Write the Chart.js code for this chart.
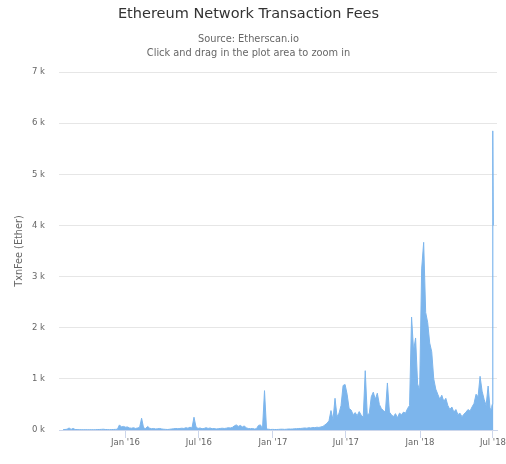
<!DOCTYPE html>
<html>
<head>
<meta charset="utf-8">
<title>Ethereum Network Transaction Fees</title>
<script src="https://cdn.jsdelivr.net/npm/chart.js@4.4.1/dist/chart.umd.min.js"></script>
<style>
  html, body { margin: 0; padding: 0; background: #fff; }
  #wrap { width: 506px; height: 464px; }
</style>
</head>
<body>
<div id="wrap"><canvas id="fees"></canvas></div>
<script>
// day 0 = 30 Jul 2015, one reading every 5 days (estimated off the chart)
const stepDays = 5;
const fees2015 = [5, 10, 15, 40, 12, 30, 10, 8, 6, 6,
  5, 6, 5, 5, 6, 5, 6, 8, 10, 12,
  15, 10, 8, 6, 8, 10, 12, 15, 100, 60,
  70];
const fees2016 = [55, 60, 40, 35, 45, 30, 40, 50, 230,
  40, 30, 70, 35, 25, 30, 20, 25, 30, 20,
  15, 12, 10, 15, 20, 25, 30, 25, 30, 35,
  30, 45, 35, 55, 40, 250, 60, 30, 40, 25,
  30, 45, 30, 40, 25, 30, 20, 25, 30, 35,
  30, 35, 45, 40, 50, 80, 100, 70, 90, 60,
  80, 40, 30, 25, 30, 20, 25, 90, 100, 20,
  770, 20, 15, 10, 12];
const fees2017 = [10, 10, 12, 15, 15,
  12, 15, 20, 18, 20, 25, 25, 30, 30, 35,
  40, 35, 45, 40, 50, 45, 55, 50, 60, 70,
  100, 130, 180, 380, 200, 620, 260, 330, 480, 870,
  890, 700, 420, 390, 300, 340, 280, 360, 290, 250,
  1160, 300, 320, 650, 740, 600, 720, 500, 420, 380,
  350, 920, 350, 300, 260, 320, 240, 330, 300, 350,
  330, 420, 480, 2210, 1550, 1800, 900, 780];
const fees2018 = [3150, 3670,
  2300, 2100, 1700, 1530, 1000, 800, 700, 600, 680, 560,
  620, 480, 400, 450, 350, 400, 300, 330, 260, 310,
  350, 400, 370, 450, 520, 700, 650, 1050, 760, 600,
  480, 860, 400];
// last days are daily readings (the early July 2018 spike)
const lastDays = [1061, 1062, 1063, 1064, 1065, 1066, 1067, 1068];
const lastFees = [380, 420, 400, 450, 500, 2000, 5850, 4000];

const xTickDays = [155, 337, 521, 702, 886, 1067];
const xTickLabels = ["Jan '16", "Jul '16", "Jan '17", "Jul '17", "Jan '18", "Jul '18"];

const fees = fees2015.concat(fees2016, fees2017, fees2018);
const points = fees.map((v, i) => ({ x: i * stepDays, y: v }));
lastDays.forEach((d, i) => points.push({ x: d, y: lastFees[i] }));

Chart.defaults.font.family = "'DejaVu Sans', sans-serif";

new Chart(document.getElementById('fees'), {
  type: 'line',
  data: {
    datasets: [{
      label: 'TxnFee (Ether)',
      data: points,
      borderColor: '#7cb5ec',
      borderWidth: 1,
      backgroundColor: '#7cb5ec',
      fill: 'origin',
      pointRadius: 0,
      tension: 0
    }]
  },
  options: {
    responsive: true,
    maintainAspectRatio: false,
    animation: false,
    layout: { padding: { top: 0, left: 0, right: 9, bottom: 0 } },
    scales: {
      x: {
        type: 'linear',
        min: -10,
        max: 1077,
        afterBuildTicks: s => { s.ticks = xTickDays.map(v => ({ value: v })); },
        afterFit: s => { s.height = 34; s.paddingLeft = 0; s.paddingRight = 0; },
        ticks: {
          autoSkip: false,
          maxRotation: 0,
          padding: 0,
          color: '#666',
          font: { size: 8.5 },
          callback: v => xTickLabels[xTickDays.indexOf(v)]
        },
        grid: { drawOnChartArea: false, drawTicks: true, tickLength: 8, color: '#ccd6eb' },
        border: { display: true, color: '#ccd6eb' }
      },
      y: {
        min: 0,
        max: 7000,
        afterFit: s => { s.width = 59; },
        ticks: {
          stepSize: 1000,
          padding: 14,
          color: '#666',
          font: { size: 8.5 },
          callback: v => (v / 1000) + ' k'
        },
        grid: { color: '#e6e6e6', drawTicks: false },
        border: { display: false },
        title: {
          display: true,
          text: 'TxnFee (Ether)',
          color: '#666',
          font: { size: 9.7 },
          padding: { top: 14, bottom: 0 }
        }
      }
    },
    plugins: {
      legend: { display: false },
      tooltip: { enabled: false },
      title: {
        display: true,
        text: 'Ethereum Network Transaction Fees',
        color: '#333',
        font: { size: 14.5, weight: 'normal' },
        padding: { top: 6, bottom: 10 }
      },
      subtitle: {
        display: true,
        text: ['Source: Etherscan.io', 'Click and drag in the plot area to zoom in'],
        color: '#666',
        font: { size: 9.8, lineHeight: 1.33 },
        padding: { top: 0, bottom: 12.6 }
      }
    }
  }
});
</script>
</body>
</html>
